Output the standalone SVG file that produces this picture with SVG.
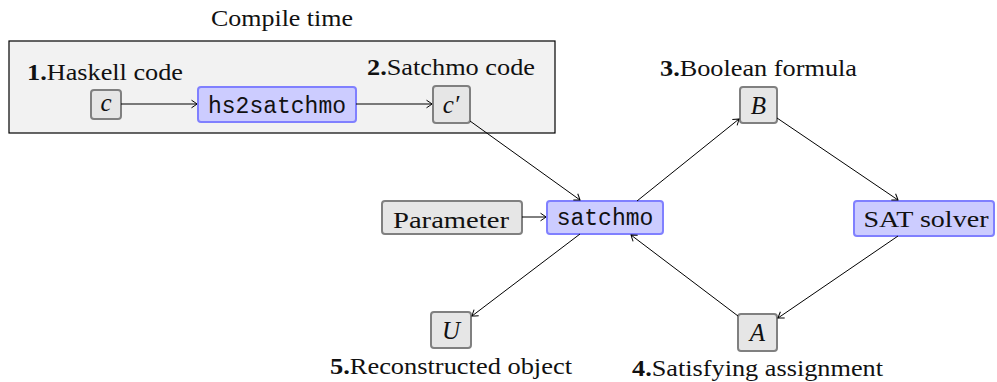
<svg xmlns="http://www.w3.org/2000/svg" width="997" height="382" viewBox="0 0 997 382">
  <defs>
    <marker id="tip" viewBox="-7 -5 9 10" refX="0" refY="0" markerWidth="9" markerHeight="10" markerUnits="userSpaceOnUse" orient="auto">
      <path d="M -5.5 -3.8 Q -1.5 -1.2 0 0 Q -1.5 1.2 -5.5 3.8" fill="none" stroke="#000" stroke-width="1"/>
    </marker>
    <style>
      .lbl { font-family: "Liberation Serif", "Times New Roman", serif; font-size: 24px; fill: #111; }
      .num { font-weight: bold; }
      .mono { font-family: "Liberation Mono", "Courier New", monospace; font-size: 23px; fill: #111; }
      .math { font-family: "Liberation Serif", "Times New Roman", serif; font-style: italic; font-size: 25px; fill: #111; }
      .gray { fill: #e6e6e6; stroke: #808080; stroke-width: 2; }
      .blue { fill: #ccccff; stroke: #8080ff; stroke-width: 2; }
      .edge { stroke: #000; stroke-width: 1; fill: none; marker-end: url(#tip); }
    </style>
  </defs>

  <!-- compile-time frame -->
  <g id="compile-time">
    <rect x="9" y="41" width="546" height="92" fill="#f2f2f2" stroke="#000" stroke-width="1.2"/>
    <text class="lbl" x="282" y="26" text-anchor="middle" textLength="142" lengthAdjust="spacingAndGlyphs">Compile time</text>
  </g>

  <g id="haskell-code">
    <text class="lbl" x="27" y="80" textLength="156" lengthAdjust="spacingAndGlyphs"><tspan class="num">1.</tspan>Haskell code</text>
    <rect class="gray" x="91" y="90" width="30" height="29" rx="3"/>
    <text class="math" x="106" y="111" text-anchor="middle">c</text>
  </g>

  <g id="hs2satchmo">
    <rect class="blue" x="198" y="87" width="158" height="35" rx="3"/>
    <text class="mono" x="277" y="113" text-anchor="middle">hs2satchmo</text>
  </g>

  <g id="satchmo-code">
    <text class="lbl" x="367" y="75" textLength="168" lengthAdjust="spacingAndGlyphs"><tspan class="num">2.</tspan>Satchmo code</text>
    <rect class="gray" x="433" y="86" width="37" height="37" rx="3"/>
    <text class="math" x="451" y="113" text-anchor="middle">c′</text>
  </g>

  <g id="boolean-formula">
    <text class="lbl" x="660" y="76" textLength="197" lengthAdjust="spacingAndGlyphs"><tspan class="num">3.</tspan>Boolean formula</text>
    <rect class="gray" x="740" y="87" width="37" height="36" rx="3"/>
    <text class="math" x="758.5" y="114" text-anchor="middle">B</text>
  </g>

  <g id="parameter">
    <rect class="gray" x="382" y="201" width="140" height="33" rx="3"/>
    <text class="lbl" x="451" y="228" text-anchor="middle" textLength="116" lengthAdjust="spacingAndGlyphs">Parameter</text>
  </g>

  <g id="satchmo">
    <rect class="blue" x="547" y="201" width="116" height="33" rx="3"/>
    <text class="mono" x="605" y="225" text-anchor="middle">satchmo</text>
  </g>

  <g id="sat-solver">
    <rect class="blue" x="854" y="201" width="140" height="35" rx="3"/>
    <text class="lbl" x="926" y="227" text-anchor="middle" textLength="125" lengthAdjust="spacingAndGlyphs">SAT solver</text>
  </g>

  <g id="reconstructed-object">
    <rect class="gray" x="431" y="312" width="40" height="36" rx="3"/>
    <text class="math" x="451" y="339" text-anchor="middle">U</text>
    <text class="lbl" x="330" y="374" textLength="242" lengthAdjust="spacingAndGlyphs"><tspan class="num">5.</tspan>Reconstructed object</text>
  </g>

  <g id="satisfying-assignment">
    <rect class="gray" x="738" y="314" width="39" height="37" rx="3"/>
    <text class="math" x="757.5" y="341" text-anchor="middle">A</text>
    <text class="lbl" x="632" y="376" textLength="251" lengthAdjust="spacingAndGlyphs"><tspan class="num">4.</tspan>Satisfying assignment</text>
  </g>

  <!-- connectors -->
  <g id="connectors">
    <line class="edge" x1="121" y1="104" x2="197" y2="104"/>
    <line class="edge" x1="356" y1="104" x2="432" y2="104"/>
    <line class="edge" x1="470" y1="121" x2="580" y2="200"/>
    <line class="edge" x1="522" y1="217" x2="546" y2="217"/>
    <line class="edge" x1="637" y1="201" x2="739" y2="119"/>
    <line class="edge" x1="777" y1="118" x2="898" y2="200"/>
    <line class="edge" x1="898" y1="236" x2="778" y2="318"/>
    <line class="edge" x1="738" y1="316" x2="631" y2="235"/>
    <line class="edge" x1="580" y1="234" x2="472" y2="316"/>
  </g>
</svg>
